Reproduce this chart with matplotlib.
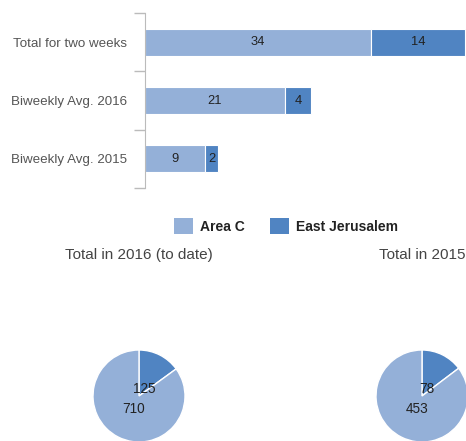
import numpy as np
import matplotlib.pyplot as plt
import matplotlib.transforms as mtransforms
from matplotlib.patches import Patch

plt.rcParams['font.family'] = ['Liberation Sans', 'DejaVu Sans']

# bar data
categories = ["Total for two weeks", "Biweekly Avg. 2016", "Biweekly Avg. 2015"]
area_c = [34, 21, 9]
east_jer = [14, 4, 2]

# pie data
pie_titles = ["Total in 2016 (to date)", "Total in 2015"]
pie_east_jer = [125, 78]
pie_area_c = [710, 453]

series_names = ["Area C", "East Jerusalem"]
col_c = "#94B0D8"
col_ej = "#5084C2"

W, H = 466, 441
fig = plt.figure(figsize=(W / 100, H / 100), dpi=100)


def px_box(x0, y0, x1, y1):
    # pixel box (top-left origin) -> figure fraction rect
    return [x0 / W, 1 - y1 / H, (x1 - x0) / W, (y1 - y0) / H]


# small downward nudge for the text, like the original renderer
nudge = mtransforms.ScaledTranslation(0, -3 / 100, fig.dpi_scale_trans)

ax = fig.add_axes(px_box(145, 13, 466, 188))
y = np.arange(len(categories))
b1 = ax.barh(y, area_c, height=0.46, color=col_c, edgecolor="white", linewidth=0.8)
b2 = ax.barh(y, east_jer, left=area_c, height=0.46, color=col_ej, edgecolor="white", linewidth=0.8)
for bars in (b1, b2):
    for t in ax.bar_label(bars, label_type="center", fontsize=9.3, color="#222222"):
        t.set_transform(t.get_transform() + nudge)

ax.set_xlim(0, 48.2)
ax.set_ylim(len(categories) - 0.5, -0.5)
ax.set_yticks(y)
ax.set_yticklabels(categories, fontsize=9.6, color="#555555")
ax.tick_params(axis="y", which="major", length=0, pad=13)
ax.set_yticks(np.arange(len(categories) + 1) - 0.5, minor=True)
ax.tick_params(axis="y", which="minor", length=8, color="#bbbbbb", width=1)
ax.set_xticks([])
for s in ("top", "right", "bottom"):
    ax.spines[s].set_visible(False)
ax.spines["left"].set_color("#bbbbbb")

handles = [Patch(facecolor=col_c, label=series_names[0]),
           Patch(facecolor=col_ej, label=series_names[1])]
leg = fig.legend(handles=handles, loc="center", bbox_to_anchor=(286 / W, 1 - 226 / H),
                 ncol=2, frameon=False, handlelength=1.35, handleheight=1.4,
                 handletextpad=0.5, columnspacing=1.8,
                 prop={"weight": "bold", "size": 10})
for t in leg.get_texts():
    t.set_color("#222222")

centers = [139, 422]
r = 46
for i in range(2):
    cx, cy = centers[i], 396
    pax = fig.add_axes(px_box(cx - r, cy - r, cx + r, cy + r))
    vals = [pie_east_jer[i], pie_area_c[i]]
    total = sum(vals)
    _, _, autotexts = pax.pie(vals, colors=[col_ej, col_c], startangle=90, counterclock=False,
                              wedgeprops={"edgecolor": "white", "linewidth": 1},
                              autopct=lambda p, t=total: f"{round(p * t / 100):d}",
                              pctdistance=0.24, textprops={"fontsize": 9.8, "color": "#222222"})
    for t in autotexts:
        t.set_transform(t.get_transform() + nudge)
    pax.set_xlim(-1, 1)
    pax.set_ylim(-1, 1)
    fig.text(cx / W, 1 - 255 / H, pie_titles[i], ha="center", va="center",
             fontsize=11, color="#444444")

fig.savefig("out.png", dpi=100)
